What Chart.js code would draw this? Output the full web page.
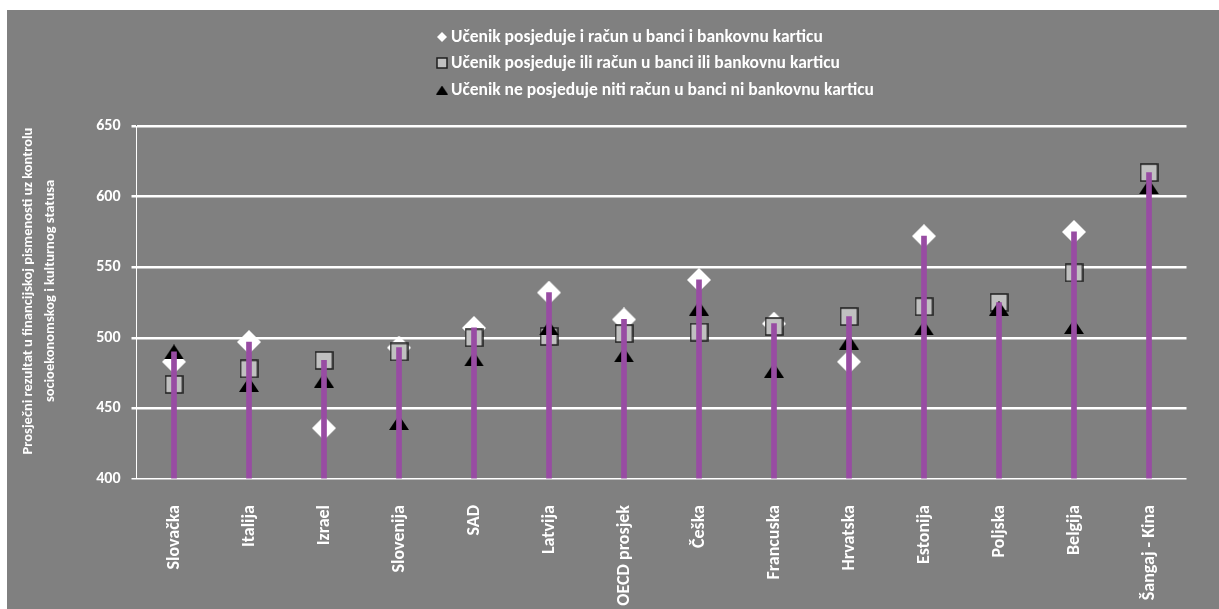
<!DOCTYPE html>
<html>
<head>
<meta charset="utf-8">
<script src="https://cdn.jsdelivr.net/npm/chart.js@4.4.0/dist/chart.umd.min.js"></script>
<style>
  html, body { margin: 0; padding: 0; background: #fff; }
  #wrap { width: 1219px; height: 609px; }
</style>
</head>
<body>
<div id="wrap"><canvas id="chart" width="1219" height="609"></canvas></div>
<script>
/* ---------- data ---------- */
const countries = ['Slovačka', 'Italija', 'Izrael', 'Slovenija', 'SAD', 'Latvija', 'OECD prosjek',
                   'Češka', 'Francuska', 'Hrvatska', 'Estonija', 'Poljska', 'Belgija', 'Šangaj - Kina'];
const both    = [483, 497, 436, 493, 507, 532, 513, 541, 510, 483, 572, null, 575, null];
const either  = [467, 478, 484, 490, 500, 501, 503, 504, 508, 515, 522, 525, 546, 617];
const neither = [490, 467, 470, 440, 485, 507, 488, 521, 477, 497, 507, 521, 508, 607];
const stemTop = [490, 497, 484, 493, 507, 532, 513, 541, 510, 515, 572, 525, 575, 617];
const yTicks  = [400, 450, 500, 550, 600, 650];
const seriesNames = [
  'Učenik posjeduje i račun u banci i bankovnu karticu',
  'Učenik posjeduje ili račun u banci ili bankovnu karticu',
  'Učenik ne posjeduje niti račun u banci ni bankovnu karticu'
];
const yTitle = ['Prosječni rezultat u financijskoj pismenosti uz kontrolu',
                'socioekonomskog i kulturnog statusa'];

/* ---------- look ---------- */
const FONT = "Carlito, Lato, 'Open Sans', sans-serif";
const GRAY = '#808080';
const PURPLE = '#984ca3';

/* ---------- marker images (centred like the Excel markers) ---------- */
function marker(kind, s) {
  const c = document.createElement('canvas');
  const g = c.getContext('2d');
  if (kind === 'diamond') {
    c.width = c.height = s;
    g.fillStyle = '#fff';
    g.beginPath();
    g.moveTo(s / 2, 0); g.lineTo(s, s / 2); g.lineTo(s / 2, s); g.lineTo(0, s / 2);
    g.closePath(); g.fill();
  } else if (kind === 'square') {
    c.width = c.height = s;
    g.fillStyle = '#c0c0c0';
    g.strokeStyle = '#1e1e1e';
    g.lineWidth = 1.5;
    g.fillRect(1, 1, s - 2, s - 2);
    g.strokeRect(1, 1, s - 2, s - 2);
  } else {
    const h = Math.round(s * 0.75);
    c.width = s; c.height = h;
    g.fillStyle = '#000';
    g.beginPath();
    g.moveTo(s / 2, 0); g.lineTo(s, h); g.lineTo(0, h);
    g.closePath(); g.fill();
  }
  return c;
}

const mkDiamond = marker('diamond', 24);
const mkSquare  = marker('square', 19);
const mkTri     = marker('triangle', 20);
const legendMarks = [marker('diamond', 10), marker('square', 12), marker('triangle', 12)];

/* ---------- plugins ---------- */
const backdrop = {
  id: 'backdrop',
  beforeDraw(chart) {
    const ctx = chart.ctx;
    ctx.save();
    ctx.fillStyle = '#fff';
    ctx.fillRect(0, 0, chart.width, chart.height);
    ctx.fillStyle = GRAY;
    ctx.fillRect(7, 10, chart.width - 7, chart.height - 10);
    ctx.restore();
  }
};

// three left-aligned rows like the original legend
const rowLegend = {
  id: 'rowLegend',
  afterDraw(chart) {
    const ctx = chart.ctx;
    const rows = [37, 63, 90];
    ctx.save();
    ctx.fillStyle = '#fff';
    ctx.font = 'bold 17.5px ' + FONT;
    ctx.textBaseline = 'middle';
    seriesNames.forEach((name, i) => {
      const m = legendMarks[i];
      ctx.drawImage(m, 442 - m.width / 2, rows[i] - m.height / 2);
      ctx.fillText(name, 451, rows[i] + 1);
    });
    ctx.restore();
  }
};

// vertical two-line axis title, centred a bit above the plot middle as in the original
const yTitleDraw = {
  id: 'yTitleDraw',
  afterDraw(chart) {
    const ctx = chart.ctx;
    const xs = [28, 50];
    ctx.save();
    ctx.fillStyle = '#fff';
    ctx.font = 'bold 14.5px ' + FONT;
    ctx.textAlign = 'center';
    ctx.textBaseline = 'middle';
    yTitle.forEach((line, i) => {
      ctx.save();
      ctx.translate(xs[i], 291);
      ctx.rotate(-Math.PI / 2);
      ctx.fillText(line, 0, 0);
      ctx.restore();
    });
    ctx.restore();
  }
};

/* ---------- chart ---------- */
const markerSet = (label, data, img, order) => ({
  type: 'line',
  label,
  data,
  showLine: false,
  pointStyle: img,
  pointRadius: 12,
  pointHoverRadius: 12,
  order
});

new Chart(document.getElementById('chart'), {
  data: {
    labels: countries,
    datasets: [
      markerSet(seriesNames[0], both, mkDiamond, 3),
      markerSet(seriesNames[1], either, mkSquare, 2),
      markerSet(seriesNames[2], neither, mkTri, 1),
      {
        type: 'bar',
        label: 'stem',
        data: stemTop,
        base: 400,
        backgroundColor: PURPLE,
        barThickness: 5,
        order: 0
      }
    ]
  },
  options: {
    responsive: false,
    animation: false,
    layout: { padding: { top: 126, left: 7, right: 32.5, bottom: 0 } },
    plugins: { legend: { display: false }, tooltip: { enabled: false } },
    scales: {
      x: {
        offset: true,
        grid: { display: false },
        border: { display: false },
        ticks: {
          color: '#fff',
          font: { family: FONT, size: 18, weight: 'bold' },
          minRotation: 90, maxRotation: 90,
          autoSkip: false,
          padding: 18
        },
        afterFit(s) { s.height = 130; }
      },
      y: {
        min: 400, max: 650,
        afterBuildTicks(s) { s.ticks = yTicks.map(v => ({ value: v })); },
        grid: {
          color: '#fff',
          lineWidth: (c) => (c.tick && c.tick.value === 400 ? 1.5 : 2.5),
          tickLength: 5
        },
        border: { display: true, color: '#fff', width: 1 },
        ticks: {
          color: '#fff',
          font: { family: FONT, size: 16, weight: 'bold' },
          padding: 11
        },
        afterFit(s) { s.width = 129.5; }
      }
    }
  },
  plugins: [backdrop, rowLegend, yTitleDraw]
});
</script>
</body>
</html>
